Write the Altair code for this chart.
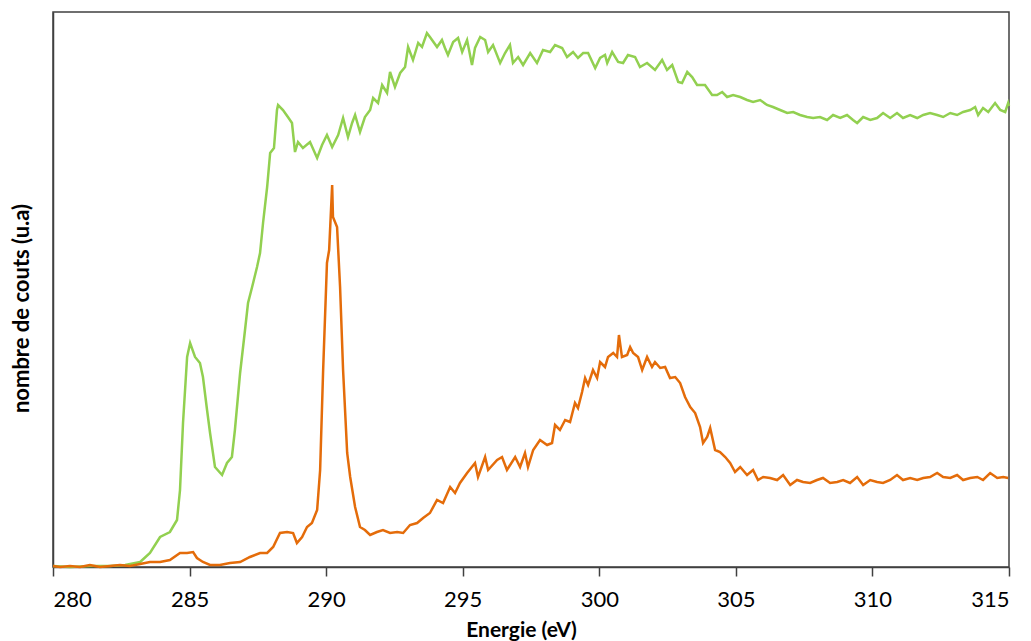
import altair as alt
import pandas as pd

# Green spectrum (energy eV, counts u.a.)
green_e = [280.00, 280.62, 281.35, 282.09, 282.64, 283.19, 283.55, 283.92, 284.28, 284.54,
           284.65, 284.76, 284.91, 285.02, 285.20, 285.38, 285.49, 285.64, 285.75, 285.93,
           286.19, 286.37, 286.55, 286.66, 286.85, 287.03, 287.14, 287.29, 287.47, 287.58,
           287.69, 287.84, 287.95, 288.09, 288.20, 288.24, 288.42, 288.60, 288.75, 288.86,
           288.97, 289.15, 289.41, 289.67, 289.85, 290.03, 290.22, 290.44, 290.62, 290.80,
           290.95, 291.06, 291.24, 291.42, 291.61, 291.72, 291.90, 292.05, 292.23, 292.34,
           292.52, 292.71, 292.89, 293.00, 293.18, 293.37, 293.51, 293.69, 293.80, 294.06,
           294.24, 294.35, 294.46, 294.65, 294.83, 294.98, 295.16, 295.34, 295.45, 295.64,
           295.82, 295.93, 296.11, 296.37, 296.55, 296.73, 296.84, 297.03, 297.21, 297.47,
           297.72, 297.94, 298.20, 298.38, 298.64, 298.82, 299.04, 299.22, 299.41, 299.59,
           299.85, 300.03, 300.21, 300.29, 300.47, 300.69, 300.87, 301.05, 301.31, 301.49,
           301.75, 302.04, 302.30, 302.48, 302.67, 302.89, 303.03, 303.22, 303.40, 303.58,
           303.87, 304.13, 304.31, 304.50, 304.68, 304.90, 305.16, 305.41, 305.63, 305.89,
           306.14, 306.36, 306.62, 306.88, 307.10, 307.35, 307.61, 307.83, 308.08, 308.34,
           308.56, 308.82, 309.07, 309.29, 309.44, 309.66, 309.92, 310.17, 310.39, 310.65,
           310.90, 311.12, 311.38, 311.64, 311.86, 312.11, 312.37, 312.59, 312.85, 313.10,
           313.32, 313.58, 313.76, 313.87, 314.05, 314.24, 314.49, 314.68, 314.86, 314.97,
           315.00]
green_i = [1, 0, 1, 1, 2, 5, 14, 30, 35, 47,
           77, 144, 210, 224, 210, 204, 190, 157, 134, 100,
           92, 104, 110, 137, 194, 237, 264, 280, 300, 314,
           344, 380, 414, 419, 457, 462, 457, 450, 444, 415,
           425, 419, 425, 409, 422, 432, 420, 432, 449, 430,
           444, 452, 435, 450, 457, 469, 464, 482, 474, 495,
           480, 494, 500, 520, 507, 524, 520, 534, 530, 520,
           527, 519, 512, 525, 529, 515, 527, 502, 519, 530,
           527, 515, 522, 504, 514, 522, 504, 510, 502, 514,
           504, 517, 515, 522, 519, 510, 515, 509, 514, 514,
           499, 509, 512, 504, 515, 505, 504, 512, 510, 500,
           504, 497, 507, 497, 502, 485, 484, 495, 490, 482,
           482, 472, 472, 475, 470, 472, 470, 467, 465, 467,
           462, 460, 457, 454, 455, 452, 450, 449, 450, 447,
           452, 449, 452, 447, 444, 450, 447, 449, 454, 449,
           454, 449, 452, 449, 452, 454, 452, 450, 454, 452,
           455, 457, 460, 452, 459, 455, 464, 457, 455, 464,
           461]

# Orange spectrum (energy eV, counts u.a.)
orange_e = [280.00, 280.26, 280.62, 280.99, 281.35, 281.72, 282.09, 282.45, 282.82, 283.19,
            283.55, 283.92, 284.28, 284.65, 284.91, 285.13, 285.27, 285.49, 285.75, 286.11,
            286.48, 286.85, 287.21, 287.58, 287.84, 288.06, 288.31, 288.57, 288.79, 288.93,
            289.12, 289.30, 289.48, 289.67, 289.78, 289.89, 290.03, 290.11, 290.22, 290.25,
            290.40, 290.51, 290.62, 290.77, 290.88, 291.06, 291.24, 291.42, 291.61, 291.86,
            292.08, 292.34, 292.60, 292.82, 293.07, 293.33, 293.55, 293.80, 294.06, 294.28,
            294.54, 294.72, 294.90, 295.16, 295.45, 295.56, 295.82, 295.93, 296.26, 296.44,
            296.62, 296.92, 297.10, 297.28, 297.39, 297.58, 297.83, 298.09, 298.27, 298.38,
            298.56, 298.75, 298.93, 299.11, 299.22, 299.37, 299.48, 299.59, 299.77, 299.92,
            300.03, 300.21, 300.32, 300.51, 300.65, 300.72, 300.83, 301.02, 301.13, 301.24,
            301.42, 301.57, 301.75, 301.93, 302.04, 302.23, 302.41, 302.59, 302.78, 302.96,
            303.14, 303.33, 303.51, 303.69, 303.80, 303.95, 304.06, 304.24, 304.42, 304.61,
            304.79, 304.97, 305.16, 305.41, 305.63, 305.81, 306.00, 306.25, 306.51, 306.73,
            306.99, 307.24, 307.46, 307.72, 307.97, 308.19, 308.45, 308.71, 308.93, 309.18,
            309.44, 309.66, 309.92, 310.17, 310.39, 310.65, 310.90, 311.12, 311.38, 311.64,
            311.86, 312.11, 312.37, 312.59, 312.85, 313.10, 313.32, 313.58, 313.84, 314.05,
            314.31, 314.57, 314.79, 314.97]
orange_i = [1, 0, 1, 0, 2, 0, 1, 2, 1, 3,
            5, 5, 7, 14, 14, 15, 9, 5, 2, 2,
            4, 5, 10, 14, 14, 20, 34, 35, 34, 24,
            30, 40, 44, 57, 97, 197, 304, 317, 382, 350,
            340, 280, 197, 114, 90, 60, 40, 37, 32, 35,
            37, 34, 35, 34, 42, 44, 49, 54, 67, 64,
            80, 74, 84, 94, 104, 90, 110, 97, 107, 110,
            97, 110, 100, 114, 100, 117, 127, 122, 124, 142,
            137, 147, 145, 164, 159, 175, 189, 182, 197, 189,
            205, 200, 210, 214, 210, 232, 210, 212, 220, 214,
            210, 197, 210, 200, 205, 199, 200, 189, 190, 184,
            170, 160, 154, 140, 124, 130, 139, 117, 115, 110,
            104, 95, 100, 92, 97, 87, 90, 89, 87, 92,
            82, 87, 85, 84, 87, 89, 84, 85, 87, 84,
            90, 82, 87, 85, 84, 87, 92, 87, 89, 87,
            89, 90, 94, 90, 89, 92, 87, 89, 90, 87,
            94, 89, 90, 89]

x_ticks = [280, 285, 290, 295, 300, 305, 310, 315]

green_df = pd.DataFrame({"energie": green_e, "coups": green_i})
orange_df = pd.DataFrame({"energie": orange_e, "coups": orange_i})

FONT = "Lato"

x_enc = alt.X(
    "energie:Q",
    scale=alt.Scale(domain=[280, 315], nice=False, zero=False),
    axis=alt.Axis(
        values=x_ticks, title="Energie (eV)", grid=False,
        tickSize=9, tickColor="#404040", tickWidth=1.5,
        domainColor="#404040", domainWidth=1.5,
        labelFont=FONT, labelFontSize=22, labelColor="#000000", labelPadding=13,
        titleFont=FONT, titleFontSize=21, titleFontWeight="bold", titleColor="#000000",
        titleBaseline="alphabetic", titleY=69, titleX=468,
    ),
)
y_enc = alt.Y(
    "coups:Q",
    scale=alt.Scale(domain=[0, 555], nice=False),
    axis=alt.Axis(
        title="nombre de couts (u.a)", labels=False, ticks=False, grid=False,
        domainColor="#404040", domainWidth=1.5,
        titleFont=FONT, titleFontSize=22, titleFontWeight="bold", titleColor="#000000",
        titleX=-20, titleY=296,
    ),
)

green_line = alt.Chart(green_df).mark_line(color="#92d050", strokeWidth=2.5).encode(x=x_enc, y=y_enc)
orange_line = alt.Chart(orange_df).mark_line(color="#e46c0a", strokeWidth=2.5).encode(x=x_enc, y=y_enc)

chart = (
    alt.layer(green_line, orange_line)
    .properties(
        width=956, height=555,
        autosize=alt.AutoSizeParams(type="none"),
        padding={"left": 45, "top": 4, "right": 10, "bottom": 76},
        background="white",
    )
    .configure_view(stroke="#404040", strokeWidth=1.5)
)

chart.save("out.html", embed_options={"renderer": "svg", "actions": False})
